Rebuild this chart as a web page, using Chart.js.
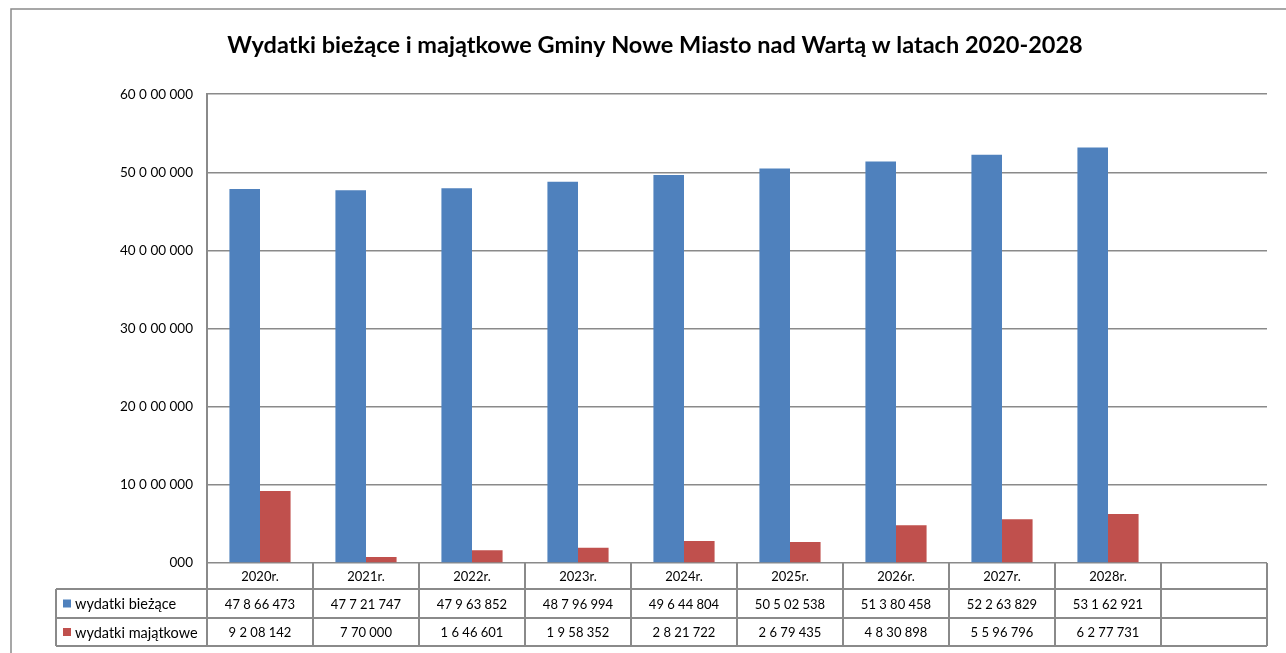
<!DOCTYPE html>
<html lang="pl">
<head>
<meta charset="UTF-8">
<title>Wydatki Gminy Nowe Miasto nad Wartą</title>
<script src="https://cdn.jsdelivr.net/npm/chart.js@4/dist/chart.umd.min.js"></script>
<style>
  html, body { margin: 0; padding: 0; background: #fff; }
  #wrap { width: 1286px; height: 653px; position: relative; }
</style>
</head>
<body>
<div id="wrap"><canvas id="myChart" width="1286" height="653"></canvas></div>
<script>
  // dane z wykresu
  const lata = ['2020r.', '2021r.', '2022r.', '2023r.', '2024r.', '2025r.', '2026r.', '2027r.', '2028r.', ''];
  const wydatkiBiezace = [47866473, 47721747, 47963852, 48796994, 49644804, 50502538, 51380458, 52263829, 53162921, null];
  const wydatkiMajatkowe = [9208142, 770000, 1646601, 1958352, 2821722, 2679435, 4830898, 5596796, 6277731, null];
  const nazwySerii = ['wydatki bieżące', 'wydatki majątkowe'];
  const kolory = ['#4F81BD', '#C0504D'];

  const FONT = 'Lato, "Liberation Sans", sans-serif';
  const SZARY = '#8a8a8a';

  // format jak w arkuszu: "47 8 66 473", "7 70 000", "000"
  function fmt(n) {
    if (n === null || n === undefined) return '';
    let s = String(Math.round(n)).padStart(3, '0');
    const parts = [];
    parts.unshift(s.slice(-3)); s = s.slice(0, -3);
    if (s.length) { parts.unshift(s.slice(-2)); s = s.slice(0, -2); }
    if (s.length) { parts.unshift(s.slice(-1)); s = s.slice(0, -1); }
    if (s.length) parts.unshift(s);
    return parts.join(' ');
  }

  const ramka = {
    id: 'ramka',
    beforeDraw(chart) {
      const ctx = chart.ctx;
      ctx.save();
      ctx.strokeStyle = SZARY;
      ctx.lineWidth = 1.5;
      ctx.beginPath();
      ctx.moveTo(11, 653);
      ctx.lineTo(11, 9);
      ctx.lineTo(1286, 9);
      ctx.stroke();
      ctx.restore();
    }
  };

  // tabela danych pod osią
  const tabela = {
    id: 'tabela',
    afterDraw(chart) {
      const ctx = chart.ctx;
      const x = chart.scales.x;
      const area = chart.chartArea;
      const w = (area.right - area.left) / lata.length;
      const y0 = area.bottom, y1 = y0 + 26, y2 = y1 + 29, y3 = y2 + 28;
      const legL = 56;
      ctx.save();
      ctx.strokeStyle = SZARY;
      ctx.lineWidth = 2;
      ctx.beginPath();
      [y1, y2, y3].forEach(y => { ctx.moveTo(legL, y); ctx.lineTo(area.right, y); });
      ctx.moveTo(legL, y1); ctx.lineTo(legL, y3);
      for (let i = 0; i <= lata.length; i++) {
        const xx = area.left + i * w;
        ctx.moveTo(xx, y0); ctx.lineTo(xx, y3);
      }
      ctx.stroke();

      ctx.fillStyle = '#000';
      ctx.font = '13px ' + FONT;
      ctx.textAlign = 'center';
      ctx.textBaseline = 'middle';
      lata.forEach((l, i) => {
        const cx = x.getPixelForValue(i);
        ctx.fillText(l, cx, (y0 + y1) / 2 + 1);
        ctx.fillText(fmt(wydatkiBiezace[i]), cx, (y1 + y2) / 2 + 1);
        ctx.fillText(fmt(wydatkiMajatkowe[i]), cx, (y2 + y3) / 2 + 1);
      });

      ctx.textAlign = 'left';
      ctx.font = '14.5px ' + FONT;
      [[y1, y2], [y2, y3]].forEach((r, k) => {
        const cy = (r[0] + r[1]) / 2;
        ctx.fillStyle = kolory[k];
        ctx.fillRect(63, cy - 4, 8, 8);
        ctx.fillStyle = '#000';
        ctx.fillText(nazwySerii[k], 75, cy + 1);
      });
      ctx.restore();
    }
  };

  const data = {
    labels: lata,
    datasets: [
      { label: nazwySerii[0], data: wydatkiBiezace, backgroundColor: kolory[0] },
      { label: nazwySerii[1], data: wydatkiMajatkowe, backgroundColor: kolory[1] }
    ]
  };

  const config = {
    type: 'bar',
    data: data,
    options: {
      responsive: false,
      animation: false,
      datasets: { bar: { categoryPercentage: 0.577, barPercentage: 1 } },
      layout: { padding: { left: 43, right: 19, top: 0, bottom: 90 } },
      plugins: {
        legend: { display: false },
        tooltip: { enabled: false },
        title: {
          display: true,
          text: 'Wydatki bieżące i majątkowe Gminy Nowe Miasto nad Wartą w latach 2020-2028',
          color: '#000',
          font: { family: FONT, size: 23.5, weight: 'bold', lineHeight: 1.2 },
          padding: { top: 31, bottom: 35 }
        }
      },
      scales: {
        x: {
          grid: { display: false },
          border: { display: false },
          ticks: { display: false },
          afterFit(s) { s.height = 0; }
        },
        y: {
          min: 0,
          max: 60000000,
          afterFit(s) { s.width = 164; },
          ticks: {
            stepSize: 10000000,
            padding: 14,
            color: '#000',
            font: { family: FONT, size: 13.5 },
            callback: v => fmt(v)
          },
          grid: { color: SZARY, lineWidth: 1.5, drawTicks: false },
          border: { display: true, color: SZARY, width: 2 }
        }
      }
    },
    plugins: [ramka, tabela]
  };

  const myChart = new Chart(document.getElementById('myChart'), config);
</script>
</body>
</html>
